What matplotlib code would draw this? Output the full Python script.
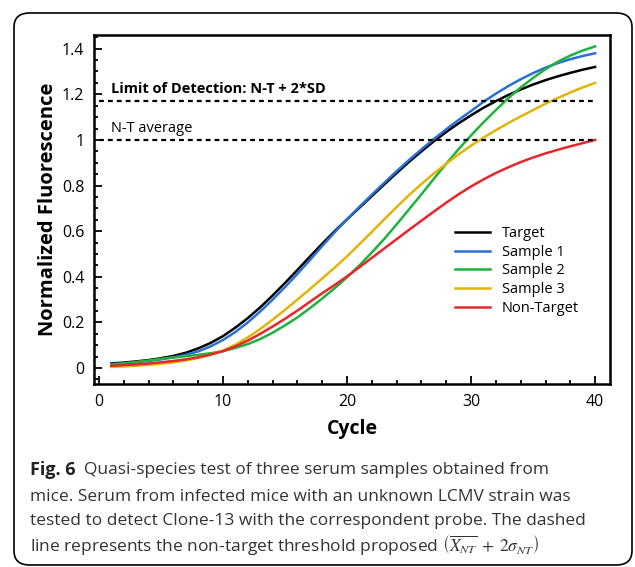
import matplotlib
matplotlib.use("Agg")
import matplotlib.pyplot as plt
from matplotlib.patches import FancyBboxPatch
from matplotlib.ticker import MultipleLocator

plt.rcParams['font.family'] = ['Open Sans', 'DejaVu Sans']
plt.rcParams['mathtext.fontset'] = 'stix'

################  data
cycles = list(range(1, 41))

target = [0.020, 0.024, 0.029, 0.035, 0.043, 0.053, 0.067, 0.086, 0.110, 0.140,
          0.177, 0.219, 0.266, 0.318, 0.373, 0.430, 0.488, 0.545, 0.600, 0.652,
          0.703, 0.754, 0.805, 0.855, 0.904, 0.950, 0.994, 1.035, 1.073, 1.108,
          1.141, 1.170, 1.197, 1.221, 1.243, 1.262, 1.279, 1.294, 1.308, 1.320]

sample1 = [0.017, 0.021, 0.026, 0.031, 0.038, 0.047, 0.058, 0.073, 0.095, 0.123,
           0.158, 0.200, 0.248, 0.300, 0.355, 0.413, 0.473, 0.535, 0.595, 0.652,
           0.707, 0.760, 0.812, 0.863, 0.912, 0.959, 1.004, 1.047, 1.088, 1.127,
           1.167, 1.203, 1.236, 1.266, 1.293, 1.317, 1.337, 1.354, 1.368, 1.380]

sample2 = [0.015, 0.020, 0.026, 0.033, 0.040, 0.046, 0.052, 0.058, 0.065, 0.074,
           0.088, 0.105, 0.127, 0.155, 0.187, 0.222, 0.262, 0.305, 0.350, 0.398,
           0.450, 0.507, 0.566, 0.630, 0.696, 0.762, 0.830, 0.896, 0.960, 1.020,
           1.077, 1.131, 1.183, 1.230, 1.272, 1.310, 1.343, 1.370, 1.392, 1.410]

sample3 = [0.005, 0.007, 0.010, 0.014, 0.019, 0.025, 0.033, 0.044, 0.058, 0.077,
           0.102, 0.134, 0.171, 0.212, 0.255, 0.300, 0.346, 0.393, 0.440, 0.490,
           0.543, 0.597, 0.652, 0.706, 0.758, 0.807, 0.853, 0.896, 0.937, 0.975,
           1.010, 1.043, 1.074, 1.103, 1.131, 1.159, 1.184, 1.208, 1.230, 1.250]

nontarget = [0.010, 0.013, 0.016, 0.020, 0.025, 0.031, 0.038, 0.047, 0.059, 0.074,
             0.095, 0.120, 0.150, 0.182, 0.216, 0.252, 0.290, 0.328, 0.364, 0.402,
             0.442, 0.483, 0.524, 0.565, 0.606, 0.646, 0.686, 0.725, 0.762, 0.796,
             0.827, 0.855, 0.880, 0.903, 0.923, 0.941, 0.957, 0.972, 0.986, 1.000]

lod_level = 1.17
nt_average = 1.0

series_names = ['Target', 'Sample 1', 'Sample 2', 'Sample 3', 'Non-Target']
series_colors = ['#000000', '#2a6fd6', '#1db33c', '#e2b40a', '#e8262a']

y_ticks = [0, 0.2, 0.4, 0.6, 0.8, 1.0, 1.2, 1.4]
y_ticklabels = ['0', '0.2', '0.4', '0.6', '0.8', '1', '1.2', '1.4']
x_ticks = [0, 10, 20, 30, 40]

caption_lines = [
    'Quasi-species test of three serum samples obtained from',
    'mice. Serum from infected mice with an unknown LCMV strain was',
    'tested to detect Clone-13 with the correspondent probe. The dashed',
    r'line represents the non-target threshold proposed $\left(\overline{X_{NT}}\;+\;2\sigma_{NT}\right)$',
]

################  figure
W, H = 635, 567
fig = plt.figure(figsize=(W / 100, H / 100), dpi=100)
ax = fig.add_axes([94 / W, 1 - 384 / H, (610 - 94) / W, (384 - 35) / H])

for name, vals, col in zip(series_names,
                           [target, sample1, sample2, sample3, nontarget],
                           series_colors):
    ax.plot(cycles, vals, color=col, lw=1.8, label=name)

ax.hlines([lod_level, nt_average], 0, 40, colors='black', lw=1.6,
          linestyles=(0, (2.2, 1.8)))
ax.text(1.0, 1.225, 'Limit of Detection: N-T + 2*SD', fontsize=10.5,
        fontweight='bold', va='center', ha='left')
ax.text(1.0, 1.048, 'N-T average', fontsize=10.5, va='center', ha='left')

ax.set_xlim(-0.4, 41.2)
ax.set_ylim(-0.07, 1.46)
ax.set_xticks(x_ticks)
ax.set_yticks(y_ticks)
ax.set_yticklabels(y_ticklabels)
ax.xaxis.set_minor_locator(MultipleLocator(2))
ax.yaxis.set_minor_locator(MultipleLocator(0.05))
ax.tick_params(which='both', direction='in', labelsize=11.5, width=1.3)
ax.tick_params(which='major', length=6, pad=7)
ax.tick_params(which='minor', length=3)
for sp in ax.spines.values():
    sp.set_linewidth(1.8)

ax.set_xlabel('Cycle', fontsize=14, fontweight='bold', labelpad=7)
ax.set_ylabel('Normalized Fluorescence', fontsize=14.5, fontweight='bold', labelpad=3)

ax.legend(loc='upper left', bbox_to_anchor=(0.675, 0.49), frameon=False,
          fontsize=10.5, handlelength=2.4, labelspacing=0.25, handletextpad=0.8)

################  caption + rounded border
box = FancyBboxPatch((14 / W, 1 - 565 / H), (632 - 14) / W, (565 - 13) / H,
                     boxstyle='round,pad=0,rounding_size=0.025',
                     transform=fig.transFigure, fill=False,
                     edgecolor='black', lw=1.2)
fig.patches.append(box)

cap_y = [470, 497, 521, 546]
fig.text(30 / W, 1 - cap_y[0] / H, 'Fig. 6', fontsize=13, fontweight='bold',
         va='center', ha='left', color='#222222')
fig.text(84 / W, 1 - cap_y[0] / H, caption_lines[0], fontsize=12.5,
         va='center', ha='left', color='#333333')
for line, yy in zip(caption_lines[1:], cap_y[1:]):
    fig.text(30 / W, 1 - yy / H, line, fontsize=12.5, va='center', ha='left',
             color='#333333')

fig.savefig('out.png', dpi=100)
